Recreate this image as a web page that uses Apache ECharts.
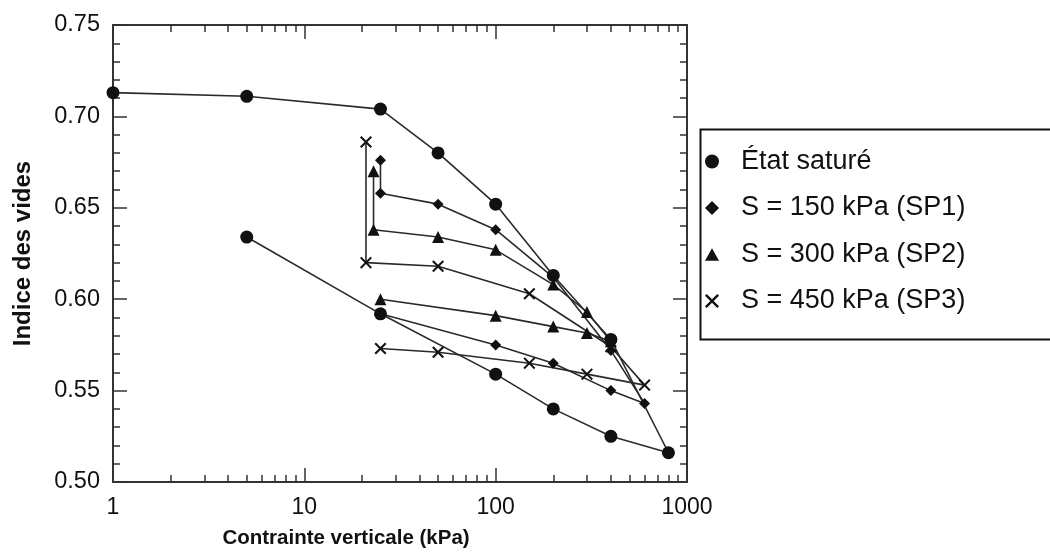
<!DOCTYPE html>
<html>
<head>
<meta charset="utf-8">
<script src="https://cdn.jsdelivr.net/npm/echarts@6/dist/echarts.min.js"></script>
<style>
  html, body { margin: 0; padding: 0; background: #fff; }
  #chart { width: 1050px; height: 554px; }
</style>
</head>
<body>
<div id="chart"></div>
<script>
// données
var satX = [1, 5, 25, 50, 100, 200, 400, 800, 400, 200, 100, 25, 5];
var satY = [0.713, 0.711, 0.704, 0.680, 0.652, 0.613, 0.578, 0.516, 0.525, 0.540, 0.559, 0.592, 0.634];

var sp1X = [25, 25, 50, 100, 200, 400, 600, 400, 200, 100, 25];
var sp1Y = [0.676, 0.658, 0.652, 0.638, 0.612, 0.572, 0.543, 0.550, 0.565, 0.575, 0.592];

var sp2X = [23, 23, 50, 100, 200, 300, 400, 300, 200, 100, 25];
var sp2Y = [0.670, 0.638, 0.634, 0.627, 0.608, 0.593, 0.577, 0.5815, 0.585, 0.591, 0.600];

var sp3X = [21, 21, 50, 150, 400, 600, 300, 150, 50, 25];
var sp3Y = [0.686, 0.620, 0.618, 0.603, 0.574, 0.553, 0.559, 0.565, 0.571, 0.573];

var seriesNames = ['État saturé', 'S = 150 kPa (SP1)', 'S = 300 kPa (SP2)', 'S = 450 kPa (SP3)'];
var xMajor = [1, 10, 100, 1000];
var xMinor = [2, 3, 4, 5, 6, 7, 8, 9, 20, 30, 40, 50, 60, 70, 80, 90, 200, 300, 400, 500, 600, 700, 800, 900];

var crossPath = 'path://M0,1.2L1.2,0L5,3.8L8.8,0L10,1.2L6.2,5L10,8.8L8.8,10L5,6.2L1.2,10L0,8.8L3.8,5Z';
var diamondPath = 'path://M5,0L10,5L5,10L0,5Z';
var trianglePath = 'path://M5,0L10,9L0,9Z';

function pairs(xs, ys) {
    var out = [];
    for (var i = 0; i < xs.length; i++) out.push([xs[i], ys[i]]);
    return out;
}

var frameColor = '#333';
var font = 'Arial, "Liberation Sans", sans-serif';

function xAxisDef(pos, major) {
    return {
        type: 'log', logBase: 10, min: 1, max: 1000, position: pos,
        axisLine: { show: major, lineStyle: { color: frameColor, width: 2 } },
        axisTick: {
            show: true, inside: true, length: major ? 14 : 7,
            customValues: major ? xMajor : xMinor,
            lineStyle: { color: frameColor, width: 1.5 }
        },
        axisLabel: {
            show: major && pos === 'bottom', customValues: xMajor,
            color: '#111', fontSize: 23, fontFamily: font, margin: 14,
            formatter: function (v) { return String(Math.round(v)); }
        },
        splitLine: { show: false },
        name: (major && pos === 'bottom') ? 'Contrainte verticale (kPa)' : '',
        nameLocation: 'middle', nameGap: 46,
        nameTextStyle: { color: '#111', fontSize: 20.5, fontWeight: 'bold', fontFamily: font, padding: [0, 108, 0, 0] }
    };
}

function yAxisDef(pos) {
    var left = pos === 'left';
    return {
        type: 'value', min: 0.5, max: 0.75, interval: 0.05, position: pos,
        axisLine: { show: true, lineStyle: { color: frameColor, width: 2 } },
        axisTick: { show: true, inside: true, length: 14, lineStyle: { color: frameColor, width: 1.5 } },
        minorTick: { show: true, splitNumber: 5, length: 7, lineStyle: { color: frameColor, width: 1.5 } },
        axisLabel: {
            show: left, color: '#111', fontSize: 23.5, fontFamily: font, margin: 13,
            formatter: function (v) { return v.toFixed(2); }
        },
        splitLine: { show: false },
        name: left ? 'Indice des vides' : '',
        nameLocation: 'middle', nameGap: 78,
        nameTextStyle: { color: '#111', fontSize: 24, fontWeight: 'bold', fontFamily: font }
    };
}

function lineSeries(name, data, symbol, size) {
    return {
        name: name, type: 'line', data: data,
        symbol: symbol, symbolSize: size,
        showAllSymbol: true,
        lineStyle: { color: '#2a2a2a', width: 1.6 },
        itemStyle: { color: '#111' },
        emphasis: { disabled: true },
        animation: false
    };
}

var chart = echarts.init(document.getElementById('chart'));
chart.setOption({
    animation: false,
    backgroundColor: '#fff',
    grid: { left: 113, right: 363, top: 25, bottom: 72, containLabel: false },
    xAxis: [xAxisDef('bottom', true), xAxisDef('bottom', false), xAxisDef('top', true), xAxisDef('top', false)],
    yAxis: [yAxisDef('left'), yAxisDef('right')],
    legend: {
        orient: 'vertical', left: 705, top: 148, padding: 0,
        itemWidth: 14, itemHeight: 14, itemGap: 19.5,
        symbolKeepAspect: true,
        textStyle: { color: '#111', fontSize: 27, lineHeight: 27, fontFamily: font, padding: [0, 0, 0, 17] },
        data: [
            { name: seriesNames[0], icon: 'circle' },
            { name: seriesNames[1], icon: diamondPath },
            { name: seriesNames[2], icon: trianglePath },
            { name: seriesNames[3], icon: crossPath }
        ],
        selectedMode: false
    },
    graphic: [{
        type: 'rect', left: 698, top: 127,
        shape: { width: 400, height: 210 },
        style: { fill: 'none', stroke: '#111', lineWidth: 2 }
    }],
    series: [
        lineSeries(seriesNames[3], pairs(sp3X, sp3Y), crossPath, 12),
        lineSeries(seriesNames[2], pairs(sp2X, sp2Y), trianglePath, 12),
        lineSeries(seriesNames[1], pairs(sp1X, sp1Y), diamondPath, 11),
        lineSeries(seriesNames[0], pairs(satX, satY), 'circle', 13)
    ]
});
</script>
</body>
</html>
